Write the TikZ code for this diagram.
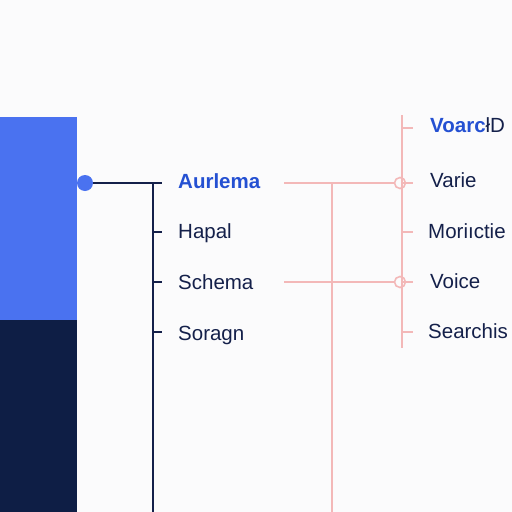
\documentclass[tikz,border=0pt]{standalone}
\usepackage{fontspec}
\setmainfont{Liberation Sans}
\definecolor{bgc}{HTML}{FBFBFC}
\definecolor{blueblk}{HTML}{4A72F0}
\definecolor{navy}{HTML}{0E1E45}
\definecolor{txtdark}{HTML}{14204A}
\definecolor{txtblue}{HTML}{2450D2}
\definecolor{pinkl}{HTML}{F3B8B8}
\tikzset{
  lbl/.style={anchor=base west,inner sep=0pt,text=txtdark,font=\fontsize{20.5}{24}\selectfont},
  lblb/.style={lbl,text=txtblue,font=\fontsize{20.5}{24}\selectfont\bfseries},
  blk/.style={line width=1.4pt,draw=txtdark},
  pk/.style={line width=1.7pt,draw=pinkl},
  pkring/.style={circle,draw=pinkl,line width=1.6pt,minimum size=11pt,inner sep=0pt},
}
\begin{document}
\begin{tikzpicture}[x=1pt,y=-1pt]
\useasboundingbox (0,0) rectangle (512,512);
\fill[bgc] (0,0) rectangle (512,512);
% blocks
\fill[blueblk] (0,117) rectangle (77,320);
\fill[navy] (0,320) rectangle (77,512);
% left tree
\node[circle,fill=blueblk,minimum size=16pt,inner sep=0pt] (dot) at (85,183) {};
\coordinate (lt0) at (162,183);
\coordinate (lvtop) at (153,183);
\coordinate (lvbot) at (153,512);
\draw[blk] (dot.east) -- (lt0);
\draw[blk] (lvtop) -- (lvbot);
\foreach \y/\n in {232/l1,282/l2,332/l3}{
  \coordinate (\n) at (162,\y);
  \draw[blk] (153,\y) -- (\n);
}
\node[lblb] (aur) at (178,188) {Aurlema};
\node[lbl] (hap) at (178,238) {Hapal};
\node[lbl] (sch) at (178,289) {Schema};
\node[lbl] (sor) at (178,340) {Soragn};
% right pink tree
\coordinate (ra) at (284,183);
\coordinate (rb) at (284,282);
\coordinate (rvtop) at (402,115);
\coordinate (rvbot) at (402,348);
\draw[pk] (rvtop) -- (rvbot);
\node[pkring] (c1) at (400,183) {};
\node[pkring] (c2) at (400,282) {};
\draw[pk] (ra) -- (c1.west);
\draw[pk] (rb) -- (c2.west);
\coordinate (mvtop) at (332,183);
\coordinate (mvbot) at (332,512);
\draw[pk] (mvtop) -- (mvbot);
\foreach \y in {128,183,232,282,332}{
  \draw[pk] (402,\y) -- (413,\y);
}
\node[lbl] (voa) at (430,132) {\textcolor{txtblue}{\bfseries Voarc}łD};
\node[lbl] (var) at (430,187) {Varie};
\node[lbl] (mor) at (428,238) {Moriıctie};
\node[lbl] (voi) at (430,288) {Voice};
\node[lbl] (sea) at (428,338) {Searchis};
\end{tikzpicture}
\end{document}
